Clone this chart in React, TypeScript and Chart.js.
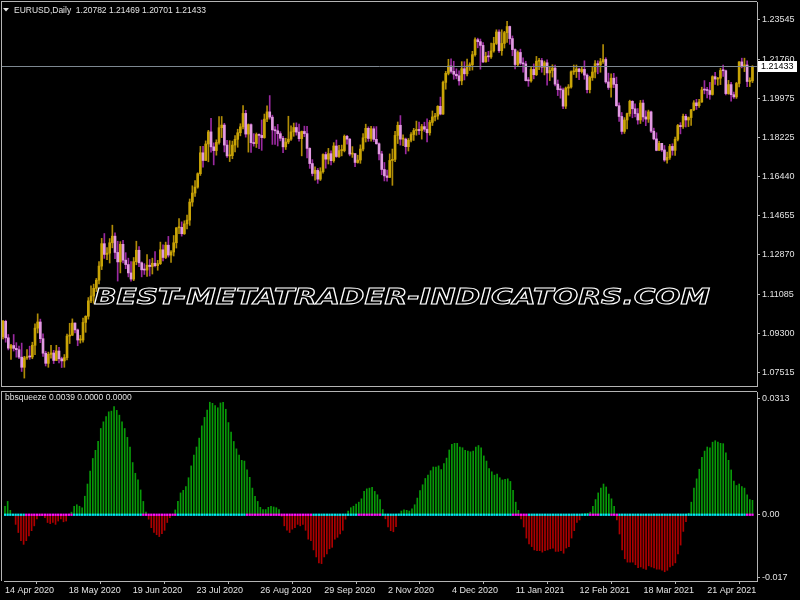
import React, { useEffect, useRef } from "react";
import { Chart, registerables } from "chart.js";
Chart.register(...registerables);

// ---------------- DATA ----------------
const SYMBOL_TITLE = "EURUSD,Daily";
const LAST_QUOTE = ["1.20782", "1.21469", "1.20701", "1.21433"];
const BID = 1.21433;
const INDICATOR_TITLE = "bbsqueeze";
const INDICATOR_VALUES = ["0.0039", "0.0000", "0.0000"];
const WATERMARK = "BEST-METATRADER-INDICATORS.COM";

// daily candles, prices x 1e-4 (open = previous close)
const FIRST_OPEN_E4 = 10915;
const CLOSE_E4 = [
  10985, 10910, 10863, 10875, 10862, 10856, 10822, 10776, 10819, 10824,
  10823, 10876, 10954, 10982, 10906, 10840, 10794, 10835, 10841, 10807,
  10850, 10815, 10805, 10820, 10918, 10922, 10977, 10946, 10900, 10900,
  10980, 11008, 11078, 11100, 11135, 11172, 11236, 11338, 11289, 11295,
  11342, 11372, 11298, 11255, 11335, 11263, 11243, 11205, 11177, 11256,
  11308, 11251, 11219, 11218, 11240, 11234, 11249, 11238, 11247, 11310,
  11275, 11331, 11286, 11300, 11342, 11410, 11412, 11383, 11428, 11445,
  11527, 11568, 11595, 11656, 11751, 11716, 11791, 11846, 11778, 11761,
  11798, 11865, 11877, 11786, 11737, 11738, 11786, 11812, 11842, 11869,
  11930, 11836, 11879, 11797, 11793, 11834, 11830, 11820, 11904, 11937,
  11913, 11855, 11851, 11838, 11817, 11778, 11800, 11813, 11846, 11866,
  11845, 11815, 11848, 11838, 11771, 11702, 11657, 11671, 11631, 11665,
  11743, 11722, 11747, 11715, 11782, 11734, 11761, 11761, 11826, 11813,
  11745, 11747, 11707, 11718, 11768, 11819, 11862, 11816, 11860, 11812,
  11792, 11746, 11675, 11646, 11639, 11716, 11721, 11830, 11876, 11813,
  11813, 11779, 11808, 11834, 11852, 11857, 11852, 11870, 11858, 11842,
  11889, 11914, 11918, 11962, 11927, 12071, 12112, 12146, 12121, 12108,
  12101, 12078, 12133, 12110, 12146, 12151, 12197, 12265, 12256, 12239,
  12164, 12189, 12187, 12214, 12248, 12300, 12215, 12248, 12297, 12325,
  12270, 12220, 12152, 12207, 12158, 12155, 12079, 12078, 12130, 12106,
  12167, 12170, 12140, 12160, 12114, 12125, 12136, 12063, 12038, 12037,
  11963, 12045, 12050, 12119, 12120, 12132, 12120, 12130, 12104, 12038,
  12093, 12118, 12156, 12150, 12165, 12175, 12073, 12048, 12090, 12062,
  11965, 11916, 11848, 11900, 11929, 11985, 11951, 11929, 11900, 11977,
  11914, 11904, 11937, 11849, 11814, 11762, 11794, 11764, 11718, 11730,
  11780, 11762, 11812, 11875, 11870, 11917, 11900, 11911, 11946, 11978,
  11965, 11982, 12037, 12036, 12034, 12016, 12097, 12086, 12090, 12125,
  12124, 12020, 12061, 12015, 12005, 12066, 12164, 12146, 12150, 12075,
  12078, 12143,
];
const HIGH_E4 = [
  10990, 10990, 10925, 10880, 10925, 10888, 10872, 10886, 10826, 10857,
  10872, 10890, 10974, 11019, 10995, 10928, 10849, 10845, 10876, 10853,
  10876, 10867, 10822, 10834, 10927, 10976, 10996, 10978, 10950, 10921,
  11000, 11010, 11093, 11146, 11154, 11180, 11257, 11362, 11384, 11320,
  11361, 11422, 11387, 11349, 11347, 11353, 11297, 11272, 11257, 11275,
  11349, 11325, 11255, 11247, 11288, 11266, 11272, 11302, 11262, 11345,
  11333, 11345, 11371, 11306, 11375, 11411, 11452, 11437, 11442, 11468,
  11541, 11601, 11625, 11660, 11780, 11780, 11805, 11853, 11908, 11796,
  11810, 11916, 11916, 11885, 11808, 11806, 11804, 11829, 11858, 11883,
  11966, 11944, 11882, 11883, 11838, 11841, 11837, 11900, 11927, 11964,
  12011, 11922, 11870, 11880, 11847, 11826, 11817, 11917, 11873, 11886,
  11887, 11882, 11850, 11872, 11871, 11774, 11720, 11687, 11680, 11683,
  11746, 11754, 11771, 11760, 11797, 11809, 11785, 11786, 11832, 11830,
  11816, 11779, 11749, 11740, 11787, 11838, 11881, 11869, 11871, 11870,
  11870, 11796, 11758, 11707, 11672, 11746, 11768, 11848, 11891, 11920,
  11833, 11818, 11816, 11843, 11862, 11895, 11891, 11880, 11890, 11905,
  11898, 11941, 11930, 11965, 12004, 12077, 12121, 12176, 12178, 12167,
  12133, 12124, 12165, 12165, 12177, 12160, 12212, 12273, 12272, 12268,
  12252, 12208, 12212, 12250, 12276, 12310, 12310, 12310, 12303, 12349,
  12327, 12282, 12224, 12214, 12222, 12182, 12167, 12093, 12144, 12155,
  12189, 12180, 12180, 12168, 12173, 12140, 12151, 12150, 12082, 12055,
  12045, 12050, 12061, 12124, 12150, 12150, 12136, 12144, 12169, 12110,
  12099, 12144, 12170, 12169, 12180, 12243, 12183, 12113, 12110, 12112,
  12095, 11978, 11934, 11911, 11931, 11990, 11988, 11974, 11952, 11989,
  11990, 11942, 11945, 11941, 11863, 11842, 11803, 11794, 11784, 11754,
  11789, 11792, 11822, 11880, 11888, 11927, 11926, 11914, 11948, 11988,
  11994, 11994, 12049, 12079, 12048, 12071, 12101, 12117, 12094, 12135,
  12150, 12127, 12080, 12071, 12027, 12071, 12165, 12181, 12181, 12169,
  12092, 12147,
];
const LOW_E4 = [
  10905, 10890, 10855, 10812, 10850, 10822, 10815, 10757, 10727, 10812,
  10812, 10815, 10833, 10932, 10888, 10825, 10782, 10776, 10818, 10793,
  10806, 10796, 10775, 10776, 10810, 10884, 10920, 10932, 10874, 10886,
  10890, 10935, 10995, 11070, 11067, 11120, 11155, 11220, 11271, 11265,
  11250, 11319, 11270, 11168, 11205, 11250, 11224, 11187, 11168, 11170,
  11242, 11233, 11187, 11198, 11189, 11191, 11200, 11232, 11217, 11243,
  11260, 11270, 11277, 11253, 11282, 11318, 11383, 11372, 11380, 11405,
  11421, 11508, 11553, 11590, 11648, 11686, 11716, 11710, 11754, 11696,
  11740, 11790, 11820, 11755, 11730, 11711, 11724, 11755, 11776, 11828,
  11860, 11822, 11754, 11753, 11781, 11775, 11770, 11762, 11817, 11892,
  11904, 11789, 11789, 11782, 11805, 11752, 11766, 11792, 11807, 11826,
  11831, 11804, 11737, 11824, 11728, 11680, 11646, 11627, 11612, 11625,
  11658, 11681, 11700, 11696, 11708, 11730, 11730, 11737, 11755, 11790,
  11737, 11730, 11688, 11704, 11703, 11760, 11800, 11803, 11804, 11802,
  11790, 11718, 11651, 11623, 11622, 11639, 11603, 11711, 11793, 11786,
  11783, 11746, 11759, 11800, 11807, 11831, 11834, 11813, 11848, 11800,
  11831, 11875, 11896, 11903, 11923, 11925, 12040, 12105, 12113, 12085,
  12087, 12058, 12060, 12082, 12100, 12125, 12127, 12190, 12228, 12131,
  12160, 12163, 12166, 12180, 12208, 12243, 12207, 12194, 12227, 12253,
  12244, 12192, 12132, 12145, 12151, 12117, 12077, 12053, 12072, 12087,
  12102, 12129, 12117, 12105, 12058, 12079, 12095, 12055, 12011, 11999,
  11952, 11952, 12013, 12045, 12107, 12093, 12083, 12113, 12085, 12023,
  12023, 12080, 12091, 12110, 12117, 12157, 12067, 12039, 12004, 12047,
  11962, 11893, 11836, 11839, 11860, 11917, 11910, 11914, 11881, 11884,
  11894, 11874, 11889, 11842, 11810, 11760, 11762, 11757, 11712, 11704,
  11721, 11740, 11739, 11805, 11837, 11862, 11868, 11870, 11875, 11942,
  11948, 11957, 11980, 12019, 12000, 11994, 12013, 12062, 12058, 12061,
  12098, 12014, 12017, 11985, 11998, 11998, 12050, 12137, 12120, 12051,
  12052, 12070,
];

// bbsqueeze histogram, values x 1e-4
const HIST_E4 = [
  23, 36, 12, 1, -26, -48, -70, -80, -70, -57,
  -43, -30, -11, -3, -2, -8, -21, -24, -21, -26,
  -17, -11, -19, -17, 1, 7, 23, 27, 23, 19,
  50, 83, 118, 152, 174, 198, 233, 251, 265, 278,
  280, 292, 282, 269, 251, 233, 209, 183, 141, 112,
  94, 67, 36, 7, -12, -35, -48, -54, -59, -51,
  -42, -21, -8, 1, 13, 36, 59, 66, 76, 100,
  132, 161, 183, 207, 240, 263, 283, 304, 301, 295,
  289, 302, 304, 285, 249, 223, 198, 178, 161, 147,
  145, 121, 101, 72, 50, 36, 20, 14, 14, 20,
  23, 21, 19, 14, -4, -30, -42, -48, -39, -35,
  -26, -30, -26, -42, -66, -70, -95, -114, -130, -132,
  -114, -106, -92, -88, -66, -61, -52, -42, -12, 10,
  19, 23, 29, 34, 43, 63, 70, 72, 74, 63,
  54, 41, 14, -11, -33, -43, -46, -32, 2, 10,
  13, 12, 10, 16, 27, 45, 65, 81, 98, 107,
  119, 129, 129, 132, 122, 138, 153, 175, 190, 193,
  193, 183, 181, 174, 172, 170, 172, 183, 187, 181,
  159, 145, 125, 116, 107, 110, 100, 94, 96, 97,
  90, 66, 34, 12, -11, -33, -63, -79, -86, -95,
  -97, -97, -101, -97, -95, -92, -90, -99, -99, -97,
  -104, -90, -86, -63, -43, -21, -14, 2, 3, 4,
  7, 23, 41, 59, 72, 83, 75, 56, 43, 23,
  -14, -52, -95, -119, -128, -128, -128, -135, -143, -141,
  -145, -148, -138, -141, -144, -147, -147, -150, -154, -150,
  -141, -137, -130, -106, -82, -45, -19, 4, 34, 72,
  97, 123, 155, 172, 183, 181, 196, 200, 196, 193,
  192, 167, 147, 121, 91, 79, 83, 76, 72, 54,
  41, 39,
];
// bar index ranges where the squeeze is on (magenta dots); cyan elsewhere
const SQUEEZE_ON_RANGES = [
  [8, 25], [52, 64], [91, 115], [133, 141], [191, 196], [220, 223], [228, 230], [279, 281],
];

const DATE_TICK_INDEX = [0, 24, 48, 72, 96, 120, 144, 168, 192, 216, 240, 264];
const DATE_TICK_LABELS = [
  "14 Apr 2020", "18 May 2020", "19 Jun 2020", "23 Jul 2020", "26 Aug 2020", "29 Sep 2020",
  "2 Nov 2020", "4 Dec 2020", "11 Jan 2021", "12 Feb 2021", "18 Mar 2021", "21 Apr 2021",
];
const PRICE_TICKS = [1.23545, 1.2176, 1.19975, 1.18225, 1.1644, 1.14655, 1.1287, 1.11085, 1.093, 1.07515];
const OSC_TICKS = [0.0313, 0, -0.017];
const OSC_TICK_LABELS = ["0.0313", "0.00", "-0.017"];

// ---------------- STYLE ----------------
const BG = "#000000";
const AXIS = "#b4b4b4";
const TEXT = "#e2e2e2";
const FONT = "Liberation Sans";
const UP_BODY = "#c9a406";
const UP_WICK = "#b08c06";
const DN_BODY = "#e29ae2";
const DN_WICK = "#9a2aa0";
const HIST_UP = "#089a08";
const HIST_DN = "#ae0000";
const DOT_OFF = "#00e8f0";
const DOT_ON = "#ff10ff";
const X_MIN = -0.375;
const X_MAX = 282.7;

export default function App() {
  const topRef = useRef<HTMLCanvasElement | null>(null);
  const botRef = useRef<HTMLCanvasElement | null>(null);

  useEffect(() => {
    const idx = CLOSE_E4.map((_, i) => i);
    const close = CLOSE_E4.map((v) => v / 1e4);
    const open = CLOSE_E4.map((_, i) => (i === 0 ? FIRST_OPEN_E4 : CLOSE_E4[i - 1]) / 1e4);
    const high = HIGH_E4.map((v) => v / 1e4);
    const low = LOW_E4.map((v) => v / 1e4);
    const up = idx.map((i) => close[i] >= open[i]);
    const squeezeOn = idx.map((i) => SQUEEZE_ON_RANGES.some(([a, b]) => i >= a && i <= b));

    const framePlugin = {
      id: "frame",
      beforeDatasetsDraw(chart: any) {
        const { ctx, chartArea: a } = chart;
        ctx.save();
        ctx.strokeStyle = AXIS;
        ctx.lineWidth = 1;
        ctx.beginPath();
        ctx.moveTo(1.5, a.top);
        ctx.lineTo(1.5, a.bottom);
        ctx.moveTo(1, a.top - 0.5);
        ctx.lineTo(a.right, a.top - 0.5);
        ctx.stroke();
        ctx.restore();
      },
    };

    const topDecor = {
      id: "topDecor",
      afterDatasetsDraw(chart: any) {
        const { ctx } = chart;
        ctx.save();
        ctx.font = `italic bold 22px "DejaVu Sans"`;
        const w = ctx.measureText(WATERMARK).width;
        ctx.translate(94, 298);
        ctx.scale(616 / w, 1);
        ctx.textBaseline = "middle";
        ctx.strokeStyle = "#ffffff";
        ctx.lineWidth = 1;
        ctx.strokeText(WATERMARK, 0, 0);
        ctx.restore();
      },
      afterDraw(chart: any) {
        const { ctx, chartArea: a, scales } = chart;
        ctx.save();
        // bottom border of price window
        ctx.strokeStyle = AXIS;
        ctx.beginPath();
        ctx.moveTo(1, a.bottom + 0.5);
        ctx.lineTo(a.right, a.bottom + 0.5);
        ctx.stroke();
        // bid line
        const y = Math.round(scales.y.getPixelForValue(BID)) + 0.5;
        ctx.strokeStyle = "#7d8790";
        ctx.beginPath();
        ctx.moveTo(a.left, y);
        ctx.lineTo(a.right, y);
        ctx.stroke();
        ctx.fillStyle = "#ffffff";
        ctx.fillRect(a.right + 1, y - 5.5, 39, 11);
        ctx.fillStyle = "#000000";
        ctx.font = `9px "${FONT}"`;
        ctx.textBaseline = "middle";
        ctx.fillText(BID.toFixed(5), a.right + 4, y + 0.5);
        // title
        ctx.fillStyle = TEXT;
        ctx.beginPath();
        ctx.moveTo(3, 8);
        ctx.lineTo(9, 8);
        ctx.lineTo(6, 11.5);
        ctx.closePath();
        ctx.fill();
        ctx.font = `8.5px "${FONT}"`;
        ctx.fillText(SYMBOL_TITLE + "  " + LAST_QUOTE.join(" "), 14, 10.5);
        ctx.restore();
      },
    };

    const botDecor = {
      id: "botDecor",
      afterDraw(chart: any) {
        const { ctx } = chart;
        ctx.save();
        ctx.fillStyle = TEXT;
        ctx.font = `8.5px "${FONT}"`;
        ctx.textBaseline = "middle";
        ctx.fillText(INDICATOR_TITLE + " " + INDICATOR_VALUES.join(" "), 5, 9.5);
        ctx.restore();
      },
    };

    const yAxisCommon = {
      position: "right" as const,
      afterFit(s: any) {
        s.width = 43;
        s.paddingTop = 0;
        s.paddingBottom = 0;
      },
      grid: { drawOnChartArea: false, color: AXIS, tickLength: 3 },
      border: { color: AXIS },
    };

    const top = new Chart(topRef.current!, {
      type: "bar",
      data: {
        datasets: [
          {
            label: "wick",
            data: idx.map((i) => ({ x: i, y: [low[i], high[i]] })) as any,
            backgroundColor: idx.map((i) => (up[i] ? UP_WICK : DN_WICK)),
            barThickness: 1,
            grouped: false,
            order: 1,
          } as any,
          {
            label: "body",
            data: idx.map((i) => ({ x: i, y: [open[i], close[i]] })) as any,
            backgroundColor: idx.map((i) => (up[i] ? UP_BODY : DN_BODY)),
            barThickness: 2,
            minBarLength: 1,
            grouped: false,
            order: 0,
          } as any,
        ],
      },
      options: {
        animation: false,
        responsive: false,
        events: [],
        layout: { padding: { left: 2, top: 2, bottom: 2, right: 0 } },
        plugins: { legend: { display: false }, tooltip: { enabled: false } },
        scales: {
          x: { type: "linear", min: X_MIN, max: X_MAX, display: false, offset: false },
          y: {
            ...yAxisCommon,
            min: 1.0691,
            max: 1.24363,
            afterBuildTicks(s: any) {
              s.ticks = PRICE_TICKS.map((v) => ({ value: v }));
            },
            ticks: {
              autoSkip: false,
              padding: 2,
              color: TEXT,
              font: { family: FONT, size: 9 },
              callback: (v: any) => Number(v).toFixed(5),
            },
          } as any,
        },
      },
      plugins: [framePlugin, topDecor],
    });

    const bot = new Chart(botRef.current!, {
      type: "bar",
      data: {
        datasets: [
          {
            type: "scatter",
            label: "squeeze",
            data: idx.map((i) => ({ x: i, y: 0 })),
            pointStyle: "rect",
            pointRadius: 1.6,
            pointBorderWidth: 0,
            pointBackgroundColor: idx.map((i) => (squeezeOn[i] ? DOT_ON : DOT_OFF)),
            order: 0,
          } as any,
          {
            type: "bar",
            label: "momentum",
            data: idx.map((i) => ({ x: i, y: HIST_E4[i] / 1e4 })) as any,
            backgroundColor: idx.map((i) => (HIST_E4[i] >= 0 ? HIST_UP : HIST_DN)),
            barThickness: 1,
            order: 1,
          } as any,
        ],
      },
      options: {
        animation: false,
        responsive: false,
        events: [],
        layout: { padding: { left: 2, top: 1, bottom: 0, right: 0 } },
        plugins: { legend: { display: false }, tooltip: { enabled: false } },
        scales: {
          x: {
            type: "linear",
            min: X_MIN,
            max: X_MAX,
            offset: false,
            afterBuildTicks(s: any) {
              s.ticks = DATE_TICK_INDEX.map((v) => ({ value: v }));
            },
            afterFit(s: any) {
              s.height = 19;
              s.paddingLeft = 0;
              s.paddingRight = 0;
            },
            ticks: {
              align: "start",
              autoSkip: false,
              maxRotation: 0,
              padding: 1,
              color: TEXT,
              font: { family: FONT, size: 9 },
              callback: (_v: any, i: number) => DATE_TICK_LABELS[i],
            },
            grid: { drawOnChartArea: false, color: AXIS, tickLength: 3 },
            border: { color: AXIS },
          } as any,
          y: {
            ...yAxisCommon,
            min: -0.0179,
            max: 0.03316,
            afterBuildTicks(s: any) {
              s.ticks = OSC_TICKS.map((v) => ({ value: v }));
            },
            ticks: {
              autoSkip: false,
              padding: 2,
              color: TEXT,
              font: { family: FONT, size: 9 },
              callback: (_v: any, i: number) => OSC_TICK_LABELS[i],
            },
          } as any,
        },
      },
      plugins: [framePlugin, botDecor],
    });

    return () => {
      top.destroy();
      bot.destroy();
    };
  }, []);

  return (
    <div style={{ position: "fixed", left: 0, top: 0, width: 800, height: 600, background: BG, overflow: "hidden" }}>
      <canvas ref={topRef} width={800} height={388} style={{ position: "absolute", left: 0, top: 0 }} />
      <canvas ref={botRef} width={800} height={212} style={{ position: "absolute", left: 0, top: 388 }} />
    </div>
  );
}
